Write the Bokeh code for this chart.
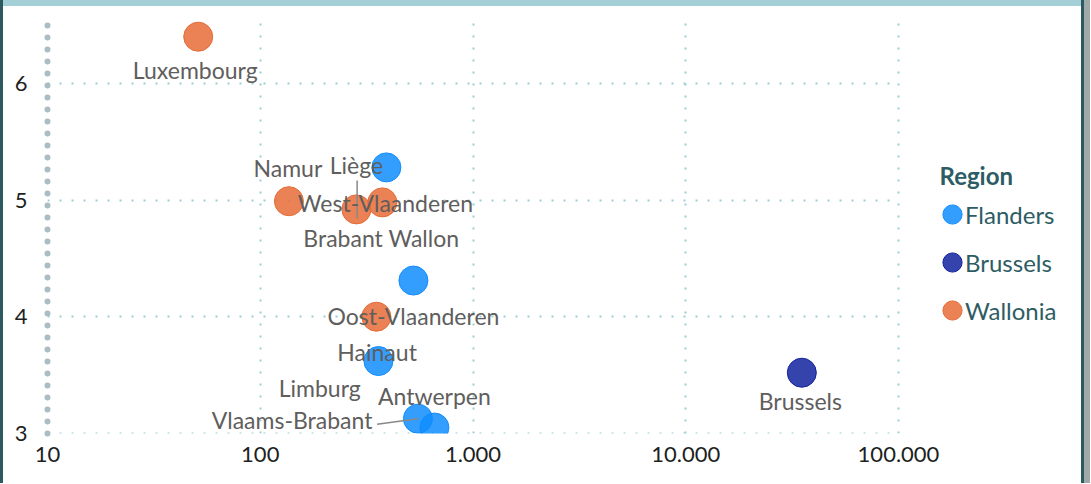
import math
from bokeh.plotting import figure
from bokeh.layouts import row, column
from bokeh.models import (ColumnDataSource, Range1d, FixedTicker, CustomJSTickFormatter,
                          Legend, LegendItem, Label, Div)
from bokeh.core.properties import value
from bokeh.embed import file_html
from bokeh.resources import INLINE

# ---------------- data ----------------
provinces = ["Luxembourg", "Namur", "Liège", "Brabant Wallon", "Hainaut",
             "West-Vlaanderen", "Oost-Vlaanderen", "Limburg", "Vlaams-Brabant", "Antwerpen",
             "Brussels"]
regions = ["Wallonia", "Wallonia", "Wallonia", "Wallonia", "Wallonia",
           "Flanders", "Flanders", "Flanders", "Flanders", "Flanders",
           "Brussels"]
x_values = [51.1, 136.4, 283.2, 375.0, 351.6, 391.7, 524.8, 359.3, 550.8, 658.5, 35120.0]
y_values = [6.40, 4.99, 4.92, 4.98, 4.00, 5.28, 4.31, 3.62, 3.126, 3.05, 3.52]

region_order = ["Flanders", "Brussels", "Wallonia"]
region_colors = ["#118DFF", "#12239E", "#E66C37"]
x_ticks = [10, 100, 1000, 10000, 100000]
y_ticks = [3, 4, 5, 6]
legend_title = "Region"

# ---------------- styles (pixel offsets of data labels: right, down) ----------------
label_offsets = {
    "Luxembourg": (-3, 41.6), "Namur": (-1, -24.6), "Liège": (0, -36),
    "Brabant Wallon": (-1, 44.2), "Hainaut": (0.7, 43.7), "West-Vlaanderen": (-1, 43.7),
    "Oost-Vlaanderen": (0, 44), "Limburg": (-58.7, 35), "Vlaams-Brabant": (-125.8, 9.6),
    "Antwerpen": (0, -23.5), "Brussels": (-1.5, 37),
}
BASELINE_FIX = -8.5
leader_offsets = {
    "Liège": ((0.7, -29), (0.7, 9)),
    "Vlaams-Brabant": ((-40.8, 5.6), (0, 0)),
}

FONT = "Lato"
FW, FH = 1078, 477               # figure size
ML, MR, MT, MB = 44, 0, 14, 50   # borders around the frame
PLOT_W = 851                      # width in px of the 10 .. 100.000 span
X0, X1 = 10, 100000
Y0, Y1 = 3.0, 6.54

frame_w = FW - ML - MR
frame_h = FH - MT - MB
px_per_dec = PLOT_W / (math.log10(X1) - math.log10(X0))
px_per_unit = frame_h / (Y1 - Y0)
x_end = X0 * 10 ** (frame_w / px_per_dec)   # frame continues to the right for the legend

p = figure(width=FW, height=FH, x_axis_type="log",
           x_range=Range1d(X0, x_end), y_range=Range1d(Y0 - 0.001, Y1 - 0.001),
           output_backend="svg", toolbar_location=None,
           min_border_left=ML, min_border_right=MR, min_border_top=MT, min_border_bottom=MB)
p.outline_line_color = None
p.background_fill_color = "white"
p.border_fill_color = "white"

# axes
p.xaxis.ticker = FixedTicker(ticks=x_ticks, minor_ticks=[])
p.xaxis.formatter = CustomJSTickFormatter(
    code="return Math.round(tick).toString().replace(/\\B(?=(\\d{3})+(?!\\d))/g, '.');")
p.xaxis.axis_line_color = None
p.xaxis.major_tick_line_color = None
p.xaxis.minor_tick_line_color = None
p.xaxis.major_label_standoff = 7

p.yaxis.ticker = FixedTicker(ticks=y_ticks, minor_ticks=[])
p.yaxis.axis_line_color = "#A9BEC3"
p.yaxis.axis_line_width = 6
p.yaxis.axis_line_dash = "0 12"
p.yaxis.axis_line_cap = "round"
p.yaxis.major_tick_line_color = None
p.yaxis.minor_tick_line_color = None
p.yaxis.major_label_standoff = 14

for ax in (p.xaxis, p.yaxis):
    ax.major_label_text_font = FONT
    ax.major_label_text_font_size = "22px"
    ax.major_label_text_color = "#201F1E"

p.grid.grid_line_color = "#9CCDD3"
p.grid.grid_line_width = 2
p.grid.grid_line_dash = "2 10"
p.ygrid.cross_bounds = (X0, X1)

# points
renderers = {}
for reg, col in zip(region_order, region_colors):
    idx = [i for i, r in enumerate(regions) if r == reg]
    src = ColumnDataSource(dict(x=[x_values[i] for i in idx], y=[y_values[i] for i in idx]))
    renderers[reg] = p.scatter("x", "y", source=src, size=29, fill_color=col, fill_alpha=0.85,
                               line_color=col, line_alpha=1.0, line_width=1)

# leader lines (pixel offsets converted through the plot's scales)
lx0, ly0, lx1, ly1 = [], [], [], []
for name, ((ax_, ay_), (bx_, by_)) in leader_offsets.items():
    i = provinces.index(name)
    lx0.append(x_values[i] * 10 ** (ax_ / px_per_dec)); ly0.append(y_values[i] - ay_ / px_per_unit)
    lx1.append(x_values[i] * 10 ** (bx_ / px_per_dec)); ly1.append(y_values[i] - by_ / px_per_unit)
p.segment(lx0, ly0, lx1, ly1, line_color="#8A8886", line_width=1.5)

# data labels
lab_src = ColumnDataSource(dict(
    x=x_values, y=y_values, text=provinces,
    dx=[label_offsets[n][0] for n in provinces],
    dy=[label_offsets[n][1] + BASELINE_FIX for n in provinces]))
p.text("x", "y", text="text", x_offset="dx", y_offset="dy", source=lab_src,
       text_font=value(FONT), text_font_size="23px", text_color="#605E5C",
       text_align="center", text_baseline="alphabetic")

# legend: markers (legend A) and names (legend B), inside the extended frame
LEG_COLOR = "#2E5C64"
legend_markers = Legend(items=[LegendItem(label=" ", renderers=[renderers[r]]) for r in region_order],
                        location=(880, 98.8), orientation="vertical",
                        glyph_width=50, glyph_height=48, spacing=0, padding=0, margin=0,
                        label_standoff=0, label_text_font_size="1px",
                        background_fill_alpha=0, border_line_color=None)
legend_names = Legend(items=[LegendItem(label=r, renderers=[renderers[r]]) for r in region_order],
                      location=(918, 98.8), orientation="vertical",
                      glyph_width=0, glyph_height=48, spacing=0, padding=0, margin=0,
                      label_standoff=0, label_text_font=FONT, label_text_font_size="24px",
                      label_text_color=LEG_COLOR, label_text_baseline="middle",
                      background_fill_alpha=0, border_line_color=None)
p.add_layout(legend_markers, "center")
p.add_layout(legend_names, "center")
p.add_layout(Label(x=892, y=250 - BASELINE_FIX, x_units="screen", y_units="screen",
                   text=legend_title, text_font=FONT, text_font_style="bold",
                   text_font_size="24px", text_color=LEG_COLOR, text_baseline="alphabetic"))

# report frame decorations
def bar(w, h, color):
    return Div(text="", width=w, height=h, margin=0, styles={"background-color": color})

layout = row(bar(3, 483, "#2C5A60"),
             column(bar(FW, 6, "#A4CFD6"), p, spacing=0),
             bar(3, 483, "#2C5A60"),
             bar(6, 483, "#A0A9AA"),
             spacing=0)

open("out.html", "w").write(file_html(layout, INLINE))
